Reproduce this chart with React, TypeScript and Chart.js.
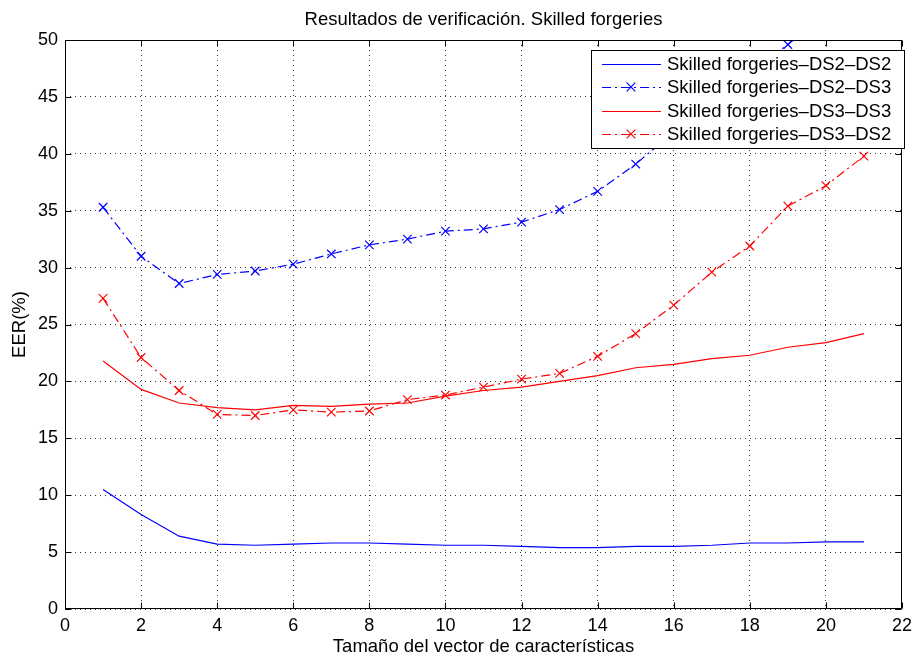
import { useEffect, useRef } from "react";
import { Chart, registerables } from "chart.js";

Chart.register(...registerables);

const FONT = '"Liberation Sans", Arial, Helvetica, sans-serif';

const titleText = "Resultados de verificación. Skilled forgeries";
const xTitle = "Tamaño del vector de características";
const yTitle = "EER(%)";

const vectorSizes = [1, 2, 3, 4, 5, 6, 7, 8, 9, 10, 11, 12, 13, 14, 15, 16, 17, 18, 19, 20, 21];
const ds2ds2 = [10.5, 8.3, 6.4, 5.7, 5.6, 5.7, 5.8, 5.8, 5.7, 5.6, 5.6, 5.5, 5.4, 5.4, 5.5, 5.5, 5.6, 5.8, 5.8, 5.9, 5.9];
const ds2ds3 = [35.3, 31.0, 28.6, 29.4, 29.7, 30.3, 31.2, 32.0, 32.5, 33.2, 33.4, 34.0, 35.1, 36.7, 39.1, 41.9, 44.6, 47.1, 49.6, 52.2, 54.8];
const ds3ds3 = [21.8, 19.3, 18.1, 17.7, 17.5, 17.9, 17.8, 18.0, 18.1, 18.7, 19.2, 19.5, 20.0, 20.5, 21.2, 21.5, 22.0, 22.3, 23.0, 23.4, 24.2];
const ds3ds2 = [27.3, 22.1, 19.2, 17.1, 17.0, 17.5, 17.3, 17.4, 18.4, 18.8, 19.5, 20.2, 20.7, 22.2, 24.2, 26.7, 29.6, 31.9, 35.4, 37.2, 39.8];

const seriesLabels = [
  "Skilled forgeries\u2013DS2\u2013DS2",
  "Skilled forgeries\u2013DS2\u2013DS3",
  "Skilled forgeries\u2013DS3\u2013DS3",
  "Skilled forgeries\u2013DS3\u2013DS2",
];

const BLUE = "#0000ff";
const RED = "#ff0000";
const DASHDOT = [9, 4, 2, 4];

const toPoints = (ys: number[]) => vectorSizes.map((x, i) => ({ x, y: ys[i] }));

const decor = {
  id: "decor",
  afterDraw(chart: any) {
    const { ctx, chartArea: a, scales } = chart;
    const xs = scales.x;
    const ys = scales.y;
    const al = (v: number) => Math.round(v) + 0.5;
    const L = al(a.left), R = al(a.right - 1), T = al(a.top), B = al(a.bottom - 1);
    ctx.save();
    ctx.setLineDash([]);
    ctx.strokeStyle = "#000";
    ctx.lineWidth = 1;
    ctx.strokeRect(L, T, R - L, B - T);
    const TL = 6;
    ctx.beginPath();
    xs.ticks.forEach((t: any) => {
      const p = al(xs.getPixelForValue(t.value));
      ctx.moveTo(p, B); ctx.lineTo(p, B - TL);
      ctx.moveTo(p, T); ctx.lineTo(p, T + TL);
    });
    ys.ticks.forEach((t: any) => {
      const p = al(ys.getPixelForValue(t.value));
      ctx.moveTo(L, p); ctx.lineTo(L + TL, p);
      ctx.moveTo(R, p); ctx.lineTo(R - TL, p);
    });
    ctx.stroke();

    const cx = (a.left + a.right) / 2;
    const cy = (a.top + a.bottom) / 2;
    ctx.fillStyle = "#000";
    ctx.font = `18.5px ${FONT}`;
    ctx.textAlign = "center";
    ctx.textBaseline = "middle";
    ctx.fillText(titleText, cx, 20);
    ctx.fillText(xTitle, cx, 647);
    ctx.save();
    ctx.translate(20, cy);
    ctx.rotate(-Math.PI / 2);
    ctx.fillText(yTitle, 0, 0);
    ctx.restore();

    // legend
    const bx = 591.5, by = 50.5, bw = 313, bh = 98;
    ctx.fillStyle = "#fff";
    ctx.fillRect(bx, by, bw, bh);
    ctx.strokeStyle = "#000";
    ctx.strokeRect(bx, by, bw, bh);
    const rows = [64, 87, 111, 134];
    const colors = [BLUE, BLUE, RED, RED];
    const dashed = [false, true, false, true];
    ctx.font = `18.5px ${FONT}`;
    ctx.textAlign = "left";
    rows.forEach((ry, i) => {
      ctx.strokeStyle = colors[i];
      ctx.lineWidth = 1.2;
      ctx.setLineDash(dashed[i] ? DASHDOT : []);
      ctx.beginPath();
      ctx.moveTo(602, ry + 0.5);
      ctx.lineTo(661, ry + 0.5);
      ctx.stroke();
      ctx.setLineDash([]);
      if (dashed[i]) {
        const r = 4.3;
        ctx.beginPath();
        ctx.moveTo(631 - r, ry - r); ctx.lineTo(631 + r, ry + r);
        ctx.moveTo(631 - r, ry + r); ctx.lineTo(631 + r, ry - r);
        ctx.stroke();
      }
      ctx.fillStyle = "#000";
      ctx.fillText(seriesLabels[i], 667, ry + 1);
    });
    ctx.restore();
  },
};

export default function App() {
  const ref = useRef<HTMLCanvasElement | null>(null);
  useEffect(() => {
    if (!ref.current) return;
    const tickFont = { family: FONT, size: 18 };
    const chart = new Chart(ref.current, {
      type: "line",
      data: {
        datasets: [
          {
            label: seriesLabels[0],
            data: toPoints(ds2ds2),
            borderColor: BLUE,
            borderWidth: 1.2,
            pointRadius: 0,
            fill: false,
          },
          {
            label: seriesLabels[1],
            data: toPoints(ds2ds3),
            borderColor: BLUE,
            borderWidth: 1.2,
            borderDash: DASHDOT,
            pointStyle: "crossRot",
            pointRadius: 6,
            pointBorderWidth: 1.2,
            pointBorderColor: BLUE,
            fill: false,
          },
          {
            label: seriesLabels[2],
            data: toPoints(ds3ds3),
            borderColor: RED,
            borderWidth: 1.2,
            pointRadius: 0,
            fill: false,
          },
          {
            label: seriesLabels[3],
            data: toPoints(ds3ds2),
            borderColor: RED,
            borderWidth: 1.2,
            borderDash: DASHDOT,
            pointStyle: "crossRot",
            pointRadius: 6,
            pointBorderWidth: 1.2,
            pointBorderColor: RED,
            fill: false,
          },
        ],
      },
      options: {
        responsive: false,
        animation: false,
        events: [],
        elements: { line: { tension: 0 } },
        layout: { padding: { left: 0, right: 12, top: 40, bottom: 0 } },
        plugins: {
          legend: { display: false },
          title: { display: false },
          tooltip: { enabled: false },
        },
        scales: {
          x: {
            type: "linear",
            min: 0,
            max: 22,
            ticks: { stepSize: 2, color: "#000", font: tickFont, padding: 6, maxRotation: 0, autoSkip: false },
            grid: { color: "rgba(0,0,0,0.8)", lineWidth: 1, drawTicks: false },
            border: { display: false, dash: [1, 4] },
            afterFit: (s: any) => { s.height = 51; },
          },
          y: {
            type: "linear",
            min: 0,
            max: 50,
            ticks: { stepSize: 5, color: "#000", font: tickFont, padding: 7, autoSkip: false },
            grid: { color: "rgba(0,0,0,0.8)", lineWidth: 1, drawTicks: false },
            border: { display: false, dash: [1, 4] },
            afterFit: (s: any) => { s.width = 65; },
          },
        },
      },
      plugins: [decor],
    });
    return () => chart.destroy();
  }, []);
  return (
    <div style={{ position: "fixed", left: 0, top: 0, width: 918, height: 660, background: "#fff" }}>
      <canvas ref={ref} width={918} height={660} style={{ display: "block" }} />
    </div>
  );
}
